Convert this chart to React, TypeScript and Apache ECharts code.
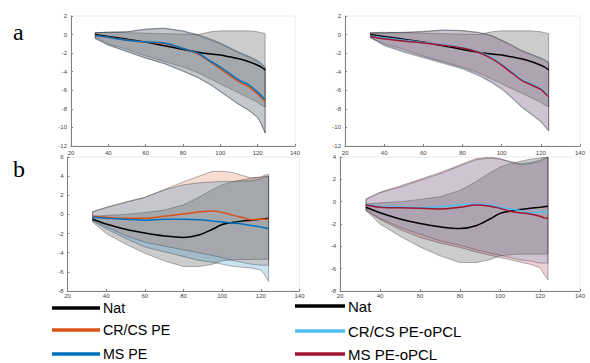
import React, { useEffect, useRef } from "react";
import * as echarts from "echarts";

// shared x positions (age / days)
const xs = [33, 40, 50, 60, 70, 80, 88, 95, 100, 105, 110, 115, 120, 122, 124];

// ---- panel a (left: PE, right: PE-oPCL) ----
const natA = [0.0, -0.2, -0.5, -0.8, -1.2, -1.6, -1.9, -2.1, -2.2, -2.4, -2.6, -2.9, -3.3, -3.5, -3.8];
const natAHi = [0.2, 0.25, 0.2, 0.15, 0.1, 0.05, 0.0, 0.3, 0.4, 0.4, 0.4, 0.4, 0.3, 0.2, 0.1];
const natALo = [-0.3, -1.0, -1.6, -2.3, -2.9, -3.5, -4.1, -4.8, -5.3, -5.8, -6.3, -6.8, -7.3, -7.6, -7.8];

const crA = [-0.1, -0.3, -0.6, -0.8, -1.0, -1.5, -2.1, -3.0, -3.7, -4.4, -5.1, -5.6, -6.4, -6.8, -7.2];
const msA = [-0.1, -0.3, -0.6, -0.8, -0.9, -1.5, -2.0, -2.9, -3.5, -4.2, -4.9, -5.4, -6.2, -6.6, -7.0];
const crAHi = [0.2, 0.25, 0.3, 0.55, 0.65, 0.35, -0.1, -0.6, -1.0, -1.5, -2.0, -2.4, -2.9, -3.2, -3.6];
const msAHi = [0.2, 0.25, 0.3, 0.6, 0.7, 0.4, 0.0, -0.5, -0.9, -1.4, -1.9, -2.3, -2.8, -3.1, -3.5];
const crALo = [-0.4, -1.1, -1.8, -2.5, -3.1, -3.9, -4.6, -5.4, -6.1, -6.8, -7.5, -8.1, -8.9, -9.6, -10.6];
const msALo = [-0.45, -1.15, -1.85, -2.55, -3.15, -3.95, -4.65, -5.45, -6.15, -6.85, -7.55, -8.15, -8.95, -9.65, -10.6];

const lbA = [-0.15, -0.35, -0.6, -0.85, -1.1, -1.4, -1.85, -2.5, -3.2, -4.0, -4.8, -5.3, -5.8, -6.2, -6.6];
const rdA = [-0.2, -0.45, -0.7, -0.9, -1.15, -1.45, -1.9, -2.6, -3.3, -4.1, -4.9, -5.4, -5.9, -6.3, -6.7];
const lbAHi = [0.2, 0.2, 0.25, 0.35, 0.5, 0.45, 0.25, -0.1, -0.6, -1.1, -1.7, -2.1, -2.5, -2.7, -3.0];
const rdAHi = [0.15, 0.15, 0.2, 0.3, 0.45, 0.4, 0.2, -0.15, -0.65, -1.2, -1.75, -2.15, -2.6, -2.8, -3.1];
const lbALo = [-0.35, -1.2, -1.9, -2.5, -3.1, -3.7, -4.4, -5.2, -5.9, -6.8, -7.8, -8.6, -9.4, -9.9, -10.4];
const rdALo = [-0.3, -1.1, -1.8, -2.4, -3.0, -3.6, -4.3, -5.1, -5.8, -6.7, -7.7, -8.5, -9.3, -9.8, -10.3];

// ---- panel b ----
const natB = [-0.5, -1.0, -1.55, -1.95, -2.25, -2.4, -2.15, -1.55, -1.05, -0.85, -0.7, -0.6, -0.5, -0.45, -0.4];
const natBHi = [-0.2, -0.1, 0.0, 0.2, 0.45, 1.0, 1.8, 2.6, 3.1, 3.4, 3.6, 3.8, 3.9, 4.0, 4.0];
const natBLo = [-0.8, -2.0, -3.1, -4.05, -4.85, -5.45, -5.45, -5.2, -4.85, -4.75, -4.7, -4.7, -4.7, -4.7, -4.7];

const crB = [-0.2, -0.3, -0.4, -0.4, -0.2, 0.05, 0.25, 0.35, 0.2, -0.05, -0.3, -0.55, -0.5, -0.5, -0.5];
const msB = [-0.3, -0.4, -0.5, -0.6, -0.5, -0.5, -0.55, -0.7, -0.8, -0.9, -1.0, -1.15, -1.3, -1.4, -1.5];
const crBHi = [0.3, 0.75, 1.3, 1.8, 2.6, 3.4, 4.0, 4.5, 4.5, 4.4, 4.1, 3.8, 3.9, 4.1, 4.2];
const msBHi = [0.25, 0.7, 1.25, 1.75, 2.55, 3.1, 3.3, 3.4, 3.45, 3.45, 3.5, 3.5, 3.7, 3.9, 4.0];
const crBLo = [-0.6, -1.3, -2.2, -2.9, -3.3, -3.7, -4.0, -4.3, -4.5, -4.8, -5.0, -5.2, -5.3, -5.3, -5.3];
const msBLo = [-0.7, -1.5, -2.5, -3.4, -3.9, -4.4, -4.8, -5.0, -5.2, -5.4, -5.5, -5.6, -5.8, -6.3, -7.0];

const lbB = [-0.25, -0.4, -0.45, -0.5, -0.45, -0.3, -0.2, -0.3, -0.5, -0.65, -0.8, -1.0, -0.95, -0.9, -0.9];
const rdB = [-0.3, -0.5, -0.55, -0.6, -0.65, -0.5, -0.3, -0.4, -0.6, -0.85, -1.0, -1.1, -1.3, -1.45, -1.5];
const lbBHi = [0.2, 0.8, 1.3, 1.9, 2.5, 3.2, 3.75, 3.9, 3.8, 3.6, 3.4, 3.5, 3.7, 3.9, 4.0];
const rdBHi = [0.25, 0.85, 1.4, 2.0, 2.6, 3.3, 3.85, 4.0, 3.85, 3.55, 3.3, 3.4, 3.6, 3.8, 3.95];
const lbBLo = [-0.7, -1.5, -2.3, -2.9, -3.5, -3.9, -4.3, -4.6, -4.8, -5.0, -5.2, -5.3, -5.5, -5.5, -5.5];
const rdBLo = [-0.8, -1.6, -2.5, -3.2, -3.7, -4.1, -4.5, -4.8, -5.0, -5.2, -5.4, -5.6, -5.9, -6.5, -7.0];

const legendLeft = ["Nat", "CR/CS PE", "MS PE"];
const legendRight = ["Nat", "CR/CS PE-oPCL", "MS PE-oPCL"];

const C_NAT = "#000000";
const C_CR = "#D95319";
const C_MS = "#0072BD";
const C_LB = "#4DBEEE";
const C_RD = "#A2142F";

function rgba(hex: string, a: number) {
  const n = parseInt(hex.slice(1), 16);
  return `rgba(${(n >> 16) & 255},${(n >> 8) & 255},${n & 255},${a})`;
}

function band(gi: number, lo: number[], hi: number[], color: string) {
  return {
    type: "custom",
    xAxisIndex: gi,
    yAxisIndex: gi,
    z: 1,
    silent: true,
    clip: true,
    data: xs.map((x, i) => [x, lo[i], hi[i]]),
    encode: { x: 0, y: [1, 2] },
    renderItem: (params: any, api: any) => {
      if (params.dataIndex !== 0) return null;
      const top = xs.map((x, i) => api.coord([x, hi[i]]));
      const bot = xs.map((x, i) => api.coord([x, lo[i]])).reverse();
      return {
        type: "polygon",
        shape: { points: top.concat(bot) },
        style: { fill: rgba(color, 0.2), stroke: "rgba(40,40,40,0.45)", lineWidth: 0.8 },
      };
    },
  };
}

function line(gi: number, ys: number[], color: string, name: string) {
  return {
    type: "line",
    name,
    xAxisIndex: gi,
    yAxisIndex: gi,
    z: 5,
    data: xs.map((x, i) => [x, ys[i]]),
    showSymbol: false,
    smooth: 0.35,
    lineStyle: { color, width: 1.5 },
    itemStyle: { color },
  };
}

const grids = [
  { left: 71, top: 16, width: 224, height: 130, ymin: -12, ymax: 2, lm: 4 },
  { left: 345, top: 16, width: 235, height: 130, ymin: -12, ymax: 2, lm: 4 },
  { left: 67.5, top: 157, width: 232, height: 134, ymin: -8, ymax: 6, lm: 2 },
  { left: 340, top: 157, width: 240, height: 134, ymin: -8, ymax: 4, lm: 2 },
];

export default function App() {
  const ref = useRef<HTMLDivElement>(null);
  useEffect(() => {
    if (!ref.current) return;
    const chart = echarts.init(ref.current, null, { renderer: "svg" });
    const axisCommon = {
      axisLine: { show: true, onZero: false, lineStyle: { color: "#808080", width: 1 } },
      axisTick: { show: true, inside: true, length: 2, lineStyle: { color: "#808080" } },
      splitLine: { show: false },
    };
    const labelStyle = { fontSize: 6, color: "#444", fontFamily: "Liberation Sans" };
    const series: any[] = [
      band(0, natALo, natAHi, C_NAT),
      band(0, crALo, crAHi, C_CR),
      band(0, msALo, msAHi, C_MS),
      line(0, natA, C_NAT, "Nat"),
      line(0, crA, C_CR, "CR/CS PE"),
      line(0, msA, C_MS, "MS PE"),

      band(1, natALo, natAHi, C_NAT),
      band(1, lbALo, lbAHi, C_LB),
      band(1, rdALo, rdAHi, C_RD),
      line(1, natA, C_NAT, "Nat"),
      line(1, lbA, C_LB, "CR/CS PE-oPCL"),
      line(1, rdA, C_RD, "MS PE-oPCL"),

      band(2, natBLo, natBHi, C_NAT),
      band(2, crBLo, crBHi, C_CR),
      band(2, msBLo, msBHi, C_MS),
      line(2, natB, C_NAT, "Nat"),
      line(2, crB, C_CR, "CR/CS PE"),
      line(2, msB, C_MS, "MS PE"),

      band(3, natBLo, natBHi, C_NAT),
      band(3, lbBLo, lbBHi, C_LB),
      band(3, rdBLo, rdBHi, C_RD),
      line(3, natB, C_NAT, "Nat"),
      line(3, lbB, C_LB, "CR/CS PE-oPCL"),
      line(3, rdB, C_RD, "MS PE-oPCL"),
    ];

    const legendItems = (names: string[], colors: string[], x0: number, x1: number, ys: number[], sx: number) =>
      names.flatMap((n, i) => [
        {
          type: "line",
          shape: { x1: x0, y1: ys[i], x2: x1, y2: ys[i] },
          style: { stroke: colors[i], lineWidth: 3.5 },
        },
        {
          type: "text",
          x: x1 + 3,
          y: ys[i],
          scaleX: sx,
          style: {
            text: n,
            fill: "#000",
            font: "15px 'Liberation Sans'",
            verticalAlign: "middle",
          },
        },
      ]);

    chart.setOption({
      animation: false,
      backgroundColor: "#fff",
      grid: grids.map((g) => ({
        left: g.left,
        top: g.top,
        width: g.width,
        height: g.height,
        show: true,
        borderColor: "#ececec",
        borderWidth: 1,
        backgroundColor: "transparent",
      })),
      xAxis: grids.map((g, i) => ({
        type: "value",
        gridIndex: i,
        min: 20,
        max: 140,
        interval: 20,
        ...axisCommon,
        axisLabel: { ...labelStyle, margin: g.lm },
      })),
      yAxis: grids.map((g, i) => ({
        type: "value",
        gridIndex: i,
        min: g.ymin,
        max: g.ymax,
        interval: 2,
        ...axisCommon,
        axisLabel: { ...labelStyle, margin: 4 },
      })),
      series,
      graphic: [
        { type: "text", x: 13, y: 20, style: { text: "a", font: "24px 'Liberation Serif'", fill: "#000" } },
        { type: "text", x: 13, y: 157, style: { text: "b", font: "24px 'Liberation Serif'", fill: "#000" } },
        ...legendItems(legendLeft, [C_NAT, C_CR, C_MS], 52, 100, [308, 330, 354], 0.95),
        ...legendItems(legendRight, [C_NAT, C_LB, C_RD], 295, 345, [306, 331, 354], 1.0),
      ],
    });
    return () => chart.dispose();
  }, []);
  return (
    <div
      ref={ref}
      style={{ position: "fixed", left: 0, top: 0, width: 590, height: 363, background: "#fff" }}
    />
  );
}
